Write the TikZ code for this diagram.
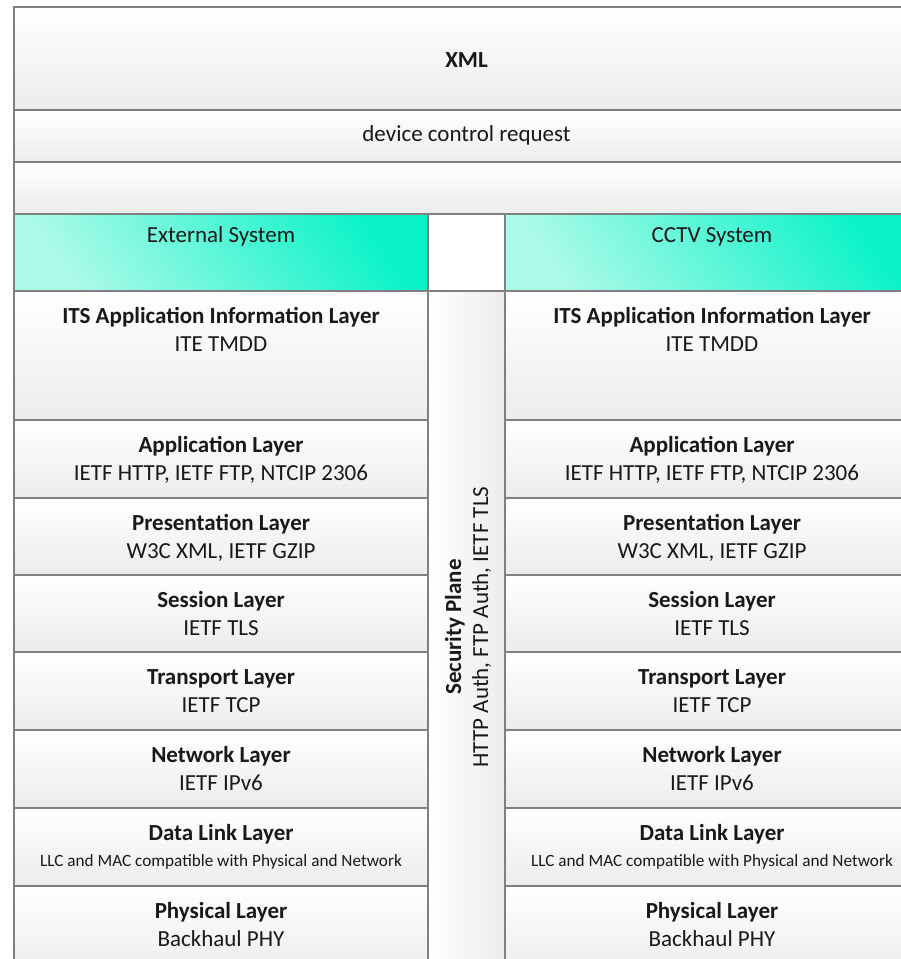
\documentclass[tikz,border=0pt]{standalone}
\usepackage{fontspec}
\setmainfont{Carlito}
\definecolor{boxline}{RGB}{128,128,128}
\definecolor{boxgrey}{RGB}{236,236,236}
\definecolor{teallight}{RGB}{172,250,232}
\definecolor{tealdark}{RGB}{10,243,200}
\definecolor{ink}{RGB}{25,25,25}
\tikzset{
  greybox/.style={draw=boxline, line width=1.5pt, top color=white, bottom color=boxgrey},
  sidebox/.style={draw=boxline, line width=1.5pt, left color=white, right color=boxgrey},
  tealbox/.style={draw=boxline, line width=1.5pt, top color=teallight, bottom color=tealdark, shading angle=125},
  title/.style={anchor=base, text=ink, inner sep=0pt, font=\bfseries\fontsize{23}{27}\selectfont},
  detail/.style={anchor=base, text=ink, inner sep=0pt, font=\fontsize{23}{27}\selectfont},
  smalldetail/.style={detail, font=\fontsize{17.2}{20}\selectfont}
}

\begin{document}
\begin{tikzpicture}[x=1pt, y=1pt]
  \useasboundingbox (0,0) rectangle (901,-959);
  \clip (0,0) rectangle (901,-959);
  \fill[white] (0,0) rectangle (901,-959);

  %%%%% top rows %%%%%
  \path[greybox] (14,-7) rectangle (919,-110);
  \node[title] (xml) at (466.5,-67) {XML};
  \path[greybox] (14,-110) rectangle (919,-162);
  \node[detail] (request) at (466.5,-141) {device control request};
  \path[greybox] (14,-162) rectangle (919,-214);

  %%%%% system headers %%%%%
  \path[tealbox] (14,-214) rectangle (428,-291);
  \node[detail] (extsys) at (221,-242) {External System};
  \path[tealbox] (505,-214) rectangle (919,-291);
  \node[detail] (cctvsys) at (712,-242) {CCTV System};

  %%%%% security plane %%%%%
  \path[sidebox] (428,-291) rectangle (505,-975);
  \node[title, rotate=90] (secplane) at (461,-627) {Security Plane};
  \node[detail, rotate=90] (secauth) at (488,-627) {HTTP Auth, FTP Auth, IETF TLS};

  %%%%% layer stacks, both systems %%%%%
  \foreach \ytop/\ybot/\id/\lname/\lstd/\lsize/\lgap in {
      291/420/its/ITS Application Information Layer/ITE TMDD/detail/60,
      420/498/app/Application Layer/{IETF HTTP, IETF FTP, NTCIP 2306}/detail/60,
      498/575/pres/Presentation Layer/{W3C XML, IETF GZIP}/detail/60,
      575/652/sess/Session Layer/IETF TLS/detail/60,
      652/730/trans/Transport Layer/IETF TCP/detail/60,
      730/808/net/Network Layer/IETF IPv6/detail/60,
      808/886/link/Data Link Layer/LLC and MAC compatible with Physical and Network/smalldetail/58,
      886/975/phy/Physical Layer/Backhaul PHY/detail/60}
  {
    \path[greybox] (14,-\ytop) rectangle (428,-\ybot);
    \path[greybox] (505,-\ytop) rectangle (919,-\ybot);
    \node[title] (ext-\id) at (221,-\ytop-32) {\lname};
    \node[\lsize] (ext-\id-std) at (221,-\ytop-\lgap) {\lstd};
    \node[title] (cctv-\id) at (712,-\ytop-32) {\lname};
    \node[\lsize] (cctv-\id-std) at (712,-\ytop-\lgap) {\lstd};
  }
\end{tikzpicture}
\end{document}
